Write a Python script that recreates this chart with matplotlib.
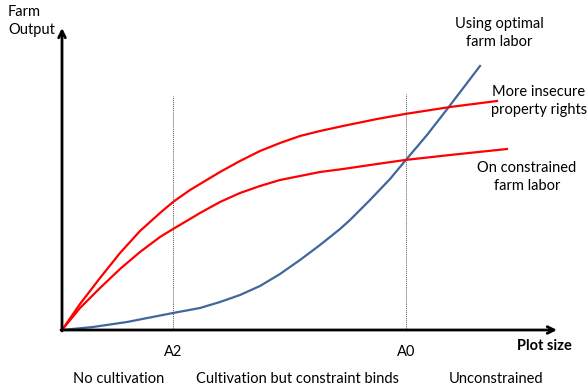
import matplotlib.pyplot as plt

# data units: plot size (x) and farm output (y)
blue_x = [0, 0.31, 0.65, 1.11, 1.38, 1.58, 1.78, 1.98, 2.18, 2.38, 2.58, 2.78,
          2.88, 3.08, 3.28, 3.43, 3.65, 3.86, 4.18]
blue_y = [0, 0.03, 0.08, 0.17, 0.22, 0.28, 0.35, 0.44, 0.56, 0.70, 0.85, 1.01,
          1.10, 1.30, 1.51, 1.69, 1.95, 2.22, 2.64]

upper_x = [0, 0.18, 0.38, 0.58, 0.78, 0.98, 1.11, 1.28, 1.38, 1.58, 1.78, 1.98,
           2.18, 2.38, 2.58, 2.81, 3.15, 3.43, 3.88, 4.35]
upper_y = [0, 0.26, 0.52, 0.77, 0.99, 1.17, 1.28, 1.40, 1.46, 1.58, 1.69, 1.79,
           1.87, 1.94, 1.99, 2.04, 2.11, 2.16, 2.23, 2.29]

lower_x = [0, 0.18, 0.38, 0.58, 0.78, 0.98, 1.11, 1.28, 1.38, 1.58, 1.78, 1.98,
           2.18, 2.38, 2.58, 2.81, 3.15, 3.43, 3.88, 4.45]
lower_y = [0, 0.22, 0.42, 0.61, 0.78, 0.93, 1.01, 1.11, 1.17, 1.28, 1.37, 1.44,
           1.50, 1.54, 1.58, 1.61, 1.66, 1.70, 1.75, 1.81]

marks = [1.11, 3.44]
mark_labels = ["A2", "A0"]
mark_tops = [2.34, 2.36]

regions = ["No cultivation", "Cultivation but constraint binds", "Unconstrained"]
region_x = [0.565, 2.355, 4.34]

plt.rcParams['font.family'] = ['Lato', 'DejaVu Sans']

fig = plt.figure(figsize=(5.88, 3.86), dpi=100)
ax = fig.add_axes([0, 0, 1, 1])
ax.set_xlim(-0.62, 5.26)
ax.set_ylim(-0.56, 3.30)
ax.axis('off')

blue = '#3F679B'
ax.plot(blue_x, blue_y, color=blue, lw=1.6, solid_joinstyle='round')
ax.plot(upper_x, upper_y, color='red', lw=1.6, solid_joinstyle='round')
ax.plot(lower_x, lower_y, color='red', lw=1.6, solid_joinstyle='round')

for x, top, lab in zip(marks, mark_tops, mark_labels):
    ax.plot([x, x], [0, top], color='#555555', lw=0.7, ls=(0, (1, 1)))
    ax.text(x, -0.22, lab, ha='center', va='center', fontsize=10.5)

# axes with arrows
arrow = dict(arrowstyle='->', lw=2, color='black', mutation_scale=12, shrinkA=0, shrinkB=0)
ax.annotate('', xy=(0, 3.02), xytext=(0, -0.01), arrowprops=arrow)
ax.annotate('', xy=(4.95, 0), xytext=(-0.01, 0), arrowprops=arrow)

ax.text(-0.54, 3.18, "Farm", ha='left', va='center', fontsize=10.5)
ax.text(-0.54, 3.00, "Output", ha='left', va='center', fontsize=10.5)
ax.text(4.82, -0.16, "Plot size", ha='center', va='center', fontsize=10.5, fontweight='bold')

ax.text(4.37, 2.97, "Using optimal\nfarm labor", ha='center', va='center', fontsize=10.5, linespacing=1.35)
ax.text(4.77, 2.29, "More insecure\nproperty rights", ha='center', va='center', fontsize=10.5, linespacing=1.35)
ax.text(4.65, 1.53, "On constrained\nfarm labor", ha='center', va='center', fontsize=10.5, linespacing=1.35)

for x, lab in zip(region_x, regions):
    ax.text(x, -0.49, lab, ha='center', va='center', fontsize=10.5)

fig.savefig('out.png', dpi=100)
